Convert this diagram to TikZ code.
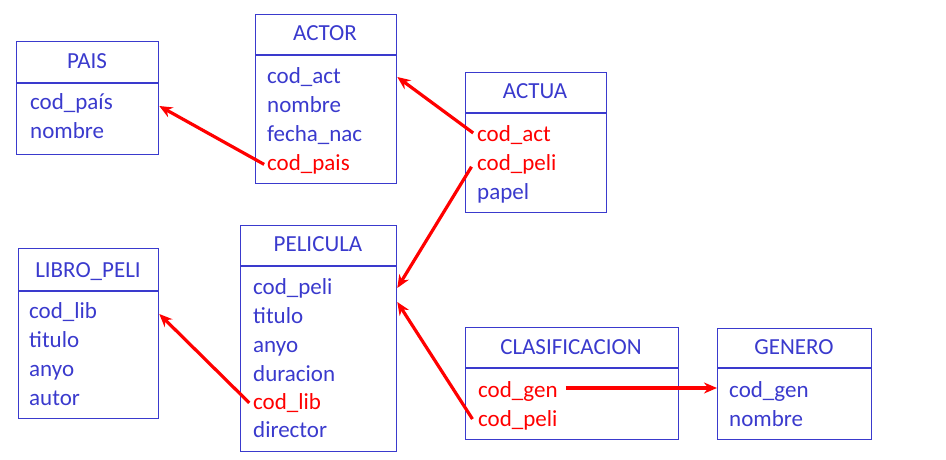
\documentclass[tikz,border=0pt]{standalone}
\usepackage{fontspec}
\setmainfont{Carlito}
\usetikzlibrary{arrows.meta}
\definecolor{tblue}{RGB}{58,58,205}
\definecolor{tred}{RGB}{255,0,0}
\tikzset{
  tbl/.style={draw=tblue, line width=1.3pt, rectangle, inner sep=0pt, anchor=north west},
  sep/.style={draw=tblue, line width=1.3pt},
  ttl/.style={text=tblue, inner sep=0pt, font=\fontsize{23}{28}\selectfont, anchor=base},
  row/.style={text=tblue, inner sep=0pt, font=\fontsize{23}{28}\selectfont, anchor=base west},
  fk/.style={row, text=tred},
  rel/.style={draw=tred, line width=3.2pt, -{Stealth[length=13pt,width=11pt]}, shorten <=1pt}
}
\begin{document}
\begin{tikzpicture}[x=1pt,y=-1pt]
\useasboundingbox (0,0) rectangle (946,460);
% PAIS
\node[tbl, minimum width=142pt, minimum height=113pt] (pais) at (16,41) {};
\draw[sep] (16,83) -- (158,83);
\node[ttl] (paisT) at (87,69) {PAIS};
\node[row] (pais1) at (30,110) {cod\_país};
\node[row] (pais2) at (30,139) {nombre};
% ACTOR
\node[tbl, minimum width=141pt, minimum height=169pt] (actor) at (255,14) {};
\draw[sep] (255,55) -- (396,55);
\node[ttl] (actorT) at (325,41) {ACTOR};
\node[row] (actor1) at (267,84) {cod\_act};
\node[row] (actor2) at (267,113) {nombre};
\node[row] (actor3) at (267,141) {fecha\_nac};
\node[fk]  (actor4) at (267,170) {cod\_pais};
% ACTUA
\node[tbl, minimum width=141pt, minimum height=140pt] (actua) at (465,72) {};
\draw[sep] (465,113) -- (606,113);
\node[ttl] (actuaT) at (535,99) {ACTUA};
\node[fk]  (actua1) at (477,141) {cod\_act};
\node[fk]  (actua2) at (477,170) {cod\_peli};
\node[row] (actua3) at (477,199) {papel};
% LIBRO_PELI
\node[tbl, minimum width=140pt, minimum height=170pt] (libro) at (18,248) {};
\draw[sep] (18,291) -- (158,291);
\node[ttl] (libroT) at (88,277) {LIBRO\_PELI};
\node[row] (libro1) at (29,318) {cod\_lib};
\node[row] (libro2) at (29,347) {titulo};
\node[row] (libro3) at (29,376) {anyo};
\node[row] (libro4) at (29,405) {autor};
% PELICULA
\node[tbl, minimum width=156pt, minimum height=226pt] (peli) at (240,225) {};
\draw[sep] (240,266) -- (396,266);
\node[ttl] (peliT) at (318,251) {PELICULA};
\node[row] (peli1) at (253,294) {cod\_peli};
\node[row] (peli2) at (253,323) {titulo};
\node[row] (peli3) at (253,352) {anyo};
\node[row] (peli4) at (253,381) {duracion};
\node[fk]  (peli5) at (253,409) {cod\_lib};
\node[row] (peli6) at (253,437) {director};
% CLASIFICACION
\node[tbl, minimum width=213pt, minimum height=112pt] (clas) at (465,327) {};
\draw[sep] (465,368) -- (678,368);
\node[ttl] (clasT) at (571,354) {CLASIFICACION};
\node[fk]  (clas1) at (478,397) {cod\_gen};
\node[fk]  (clas2) at (478,426) {cod\_peli};
% GENERO
\node[tbl, minimum width=154pt, minimum height=111pt] (gen) at (717,328) {};
\draw[sep] (717,368) -- (871,368);
\node[ttl] (genT) at (794,354) {GENERO};
\node[row] (gen1) at (729,397) {cod\_gen};
\node[row] (gen2) at (729,426) {nombre};
% connectors
\coordinate (peliIn2) at (peli.east |- 0,302);
\coordinate (genStart) at (clas1.east |- 0,388);
\draw[rel] ([xshift=-2pt,yshift=-1pt]actor4.west) -- (pais.east |- 0,106);
\draw[rel] ([xshift=-3pt,yshift=1pt]actua1.west) -- (actor.east |- 0,77);
\draw[rel] ([xshift=-5pt,yshift=-2pt]actua2.west) -- (peli.east |- 0,288);
\draw[rel] ([xshift=-5pt]clas2.west) -- (peliIn2);
\draw[rel] ([xshift=-3pt,yshift=-1pt]peli5.west) -- (libro.east |- 0,314);
\draw[rel] ([xshift=7pt]genStart) -- (gen.west |- genStart);
\end{tikzpicture}
\end{document}
